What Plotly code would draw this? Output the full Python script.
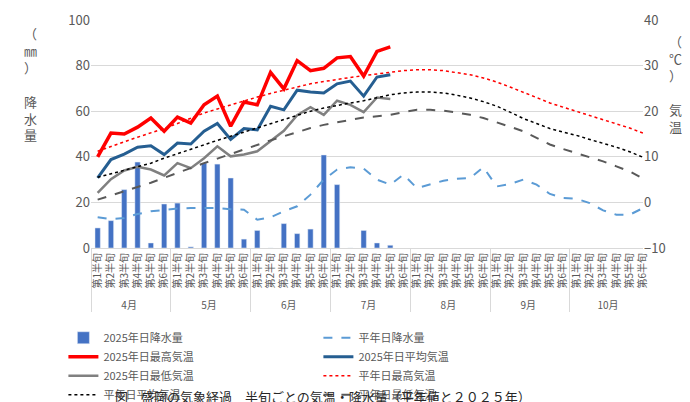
import plotly.graph_objects as go

months = ["4月", "5月", "6月", "7月", "8月", "9月", "10月"]
halves = ["第1半旬", "第2半旬", "第3半旬", "第4半旬", "第5半旬", "第6半旬"]

# 2025 observed (to 7月第5半旬)
rain_2025 = [8.8, 12.0, 25.6, 37.7, 2.2, 19.3,
             19.7, 0.5, 37.3, 36.8, 30.7, 3.9,
             7.7, 0, 10.7, 6.3, 8.3, 40.8,
             27.8, 0, 7.7, 2.2, 1.2]
tmax_2025 = [10.0, 15.2, 15.0, 16.5, 18.5, 15.6,
             18.7, 17.4, 21.4, 23.3, 16.7, 22.0,
             21.4, 28.5, 24.9, 31.1, 28.9, 29.4,
             31.7, 32.0, 27.7, 33.1, 34.1]
tmean_2025 = [5.4, 9.4, 10.6, 12.1, 12.4, 10.5,
              13.0, 12.8, 15.6, 17.3, 13.8, 16.2,
              15.9, 21.1, 20.3, 24.6, 24.2, 24.0,
              26.0, 26.6, 23.3, 27.5, 28.0]
tmin_2025 = [2.1, 5.1, 7.0, 7.8, 7.2, 5.9,
             8.6, 7.5, 9.7, 12.3, 10.1, 10.5,
             11.2, 13.4, 15.7, 19.1, 20.9, 19.2,
             22.3, 21.4, 19.8, 23.0, 22.7]

# normals
rain_norm = [13.5, 12.7, 13.2, 14.9, 16.1, 16.8,
             17.3, 17.5, 17.5, 17.5, 17.0, 16.8,
             12.4, 13.5, 16.1, 18.3, 23.4, 30.0,
             34.4, 35.4, 34.8, 30.0, 27.8, 32.2,
             26.3, 28.0, 29.5, 30.4, 30.7, 35.4,
             27.0, 28.0, 30.0, 27.8, 23.7, 21.9,
             21.6, 19.7, 16.5, 14.6, 14.6, 17.5]
tmax_norm = [11.2, 12.3, 13.3, 14.3, 15.2, 16.2,
             17.3, 18.4, 19.6, 20.5, 21.4, 22.3,
             23.1, 23.9, 24.6, 25.3, 26.0, 26.5,
             27.0, 27.4, 27.8, 28.2, 28.6, 28.9,
             29.1, 29.1, 28.9, 28.5, 28.0, 27.3,
             26.4, 25.3, 24.2, 23.0, 21.8, 20.9,
             20.0, 19.0, 18.1, 17.2, 16.3, 15.2]
tmean_norm = [5.5, 6.3, 7.1, 7.9, 8.6, 9.7,
              10.7, 11.7, 12.7, 13.6, 14.5, 15.4,
              16.3, 17.2, 18.1, 19.1, 20.0, 20.7,
              21.3, 21.8, 22.3, 23.0, 23.6, 24.0,
              24.2, 24.2, 24.0, 23.5, 22.9, 22.1,
              21.1, 19.8, 18.4, 17.3, 16.2, 15.4,
              14.7, 13.8, 13.0, 12.1, 11.1, 9.9]
tmin_norm = [0.6, 1.5, 2.4, 3.4, 4.3, 5.4,
             6.5, 7.5, 8.6, 9.6, 10.6, 11.7,
             12.7, 13.6, 14.5, 15.4, 16.3, 17.0,
             17.6, 18.1, 18.6, 18.9, 19.2, 19.8,
             20.3, 20.3, 20.1, 19.7, 19.2, 18.5,
             17.6, 16.6, 15.6, 14.2, 12.7, 11.7,
             10.8, 9.9, 9.0, 7.9, 6.8, 5.2]

xm = [m for m in months for h in halves]
xh = [h for m in months for h in halves]
n = len(rain_2025)
x25 = [xm[:n], xh[:n]]
xall = [xm, xh]

fig = go.Figure()
fig.add_bar(x=x25, y=rain_2025, name="2025年日降水量", marker_color="#4472C4")
fig.add_scatter(x=xall, y=rain_norm, name="平年日降水量", mode="lines",
                line=dict(color="#5B9BD5", width=2, dash="dash"))
fig.add_scatter(x=x25, y=tmax_2025, name="2025年日最高気温", mode="lines", yaxis="y2",
                line=dict(color="#FF0000", width=3.5))
fig.add_scatter(x=x25, y=tmean_2025, name="2025年日平均気温", mode="lines", yaxis="y2",
                line=dict(color="#255E91", width=3))
fig.add_scatter(x=x25, y=tmin_2025, name="2025年日最低気温", mode="lines", yaxis="y2",
                line=dict(color="#808080", width=2.5))
fig.add_scatter(x=xall, y=tmax_norm, name="平年日最高気温", mode="lines", yaxis="y2",
                line=dict(color="#FF0000", width=1.5, dash="dot"))
fig.add_scatter(x=xall, y=tmean_norm, name="平年日平均気温", mode="lines", yaxis="y2",
                line=dict(color="#000000", width=1.5, dash="dot"))
fig.add_scatter(x=xall, y=tmin_norm, name="平年日最低気温", mode="lines", yaxis="y2",
                line=dict(color="#595959", width=2, dash="dash"))

font = "Noto Sans CJK JP"
fig.update_layout(
    width=690, height=402,
    margin=dict(l=83, r=55, t=12, b=162, autoexpand=False),
    plot_bgcolor="white", paper_bgcolor="white",
    font=dict(family=font, color="#595959", size=12),
    bargap=0.6,
    xaxis=dict(type="multicategory", tickangle=-90, tickfont=dict(size=10),
               showline=True, linecolor="#D9D9D9", showdividers=True,
               dividercolor="#D9D9D9", automargin=False),
    yaxis=dict(range=[0, 100], dtick=20, showgrid=True, gridcolor="#D9D9D9",
               zeroline=False, tickfont=dict(size=13), automargin=False),
    yaxis2=dict(range=[-10, 40], dtick=10, overlaying="y", side="right",
                showgrid=False, zeroline=False, tickfont=dict(size=13),
                automargin=False),
    legend=dict(orientation="h", x=-0.05, y=-0.33, yanchor="top", xanchor="left",
                entrywidth=210, entrywidthmode="pixels", tracegroupgap=0,
                font=dict(size=11, color="#595959")),
    showlegend=True,
)
fig.add_annotation(text="（<br>㎜<br>）<br><br>降<br>水<br>量", xref="paper", yref="paper",
                   x=-0.125, y=0.72, showarrow=False, yanchor="middle",
                   font=dict(size=13, color="#595959"))
fig.add_annotation(text="（<br>℃<br>）<br><br>気<br>温", xref="paper", yref="paper",
                   x=1.075, y=0.72, showarrow=False, yanchor="middle",
                   font=dict(size=13, color="#595959"))
fig.add_annotation(text="図　盛岡の気象経過　半旬ごとの気温・降水量（平年値と２０２５年）",
                   xref="paper", yref="paper", x=0.42, y=-0.6, yanchor="top",
                   showarrow=False, font=dict(size=13, color="#262626"))
fig.write_html("out.html")
